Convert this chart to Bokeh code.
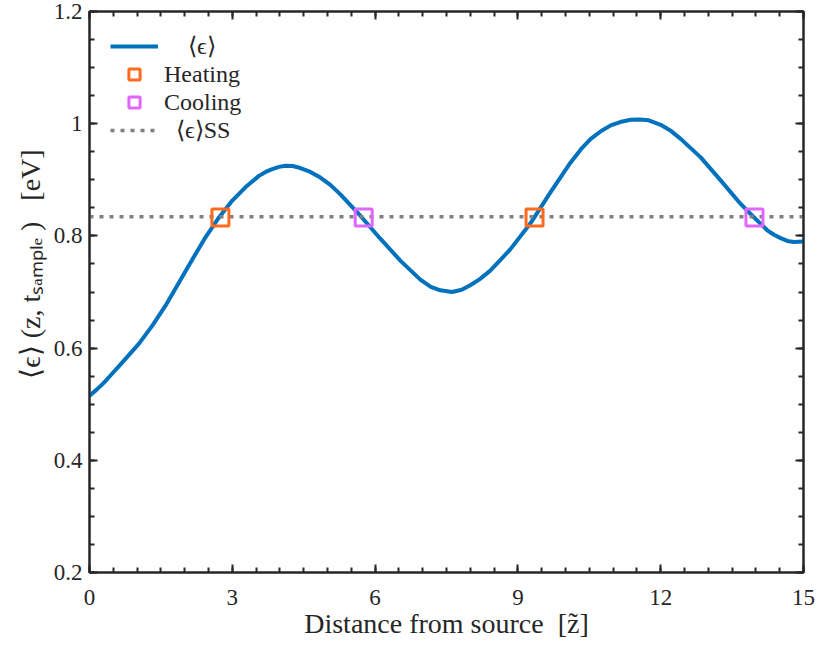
import numpy as np
from bokeh.plotting import figure
from bokeh.models import (Range1d, LinearAxis, FixedTicker, Legend, LegendItem,
                          ColumnDataSource)
from bokeh.embed import file_html
from bokeh.resources import INLINE

# ---- data ----
z = [0.0, 0.15, 0.3, 0.45, 0.62, 0.83, 1.04, 1.32, 1.6, 1.88, 2.16, 2.44,
     2.72, 3.0, 3.28, 3.56, 3.7, 3.84, 3.98, 4.12, 4.27, 4.43, 4.64, 4.85,
     5.06, 5.27, 5.69, 6.11, 6.53, 6.95, 7.17, 7.37, 7.62, 7.82, 8.0, 8.2,
     8.42, 8.84, 9.26, 9.68, 10.1, 10.33, 10.53, 10.75, 10.95, 11.15, 11.37,
     11.55, 11.75, 12.0, 12.2, 12.42, 12.84, 13.26, 13.68, 13.96, 14.24,
     14.38, 14.52, 14.66, 14.8, 15.0]
eps = [0.515, 0.526, 0.538, 0.552, 0.568, 0.588, 0.608, 0.640, 0.676, 0.717,
       0.758, 0.798, 0.833, 0.863, 0.887, 0.907, 0.914, 0.919, 0.923, 0.925,
       0.9245, 0.921, 0.914, 0.904, 0.891, 0.874, 0.836, 0.795, 0.756, 0.722,
       0.709, 0.703, 0.700, 0.704, 0.712, 0.723, 0.738, 0.776, 0.822, 0.877,
       0.930, 0.955, 0.973, 0.987, 0.997, 1.003, 1.007, 1.0075, 1.006, 0.998,
       0.988, 0.973, 0.940, 0.899, 0.857, 0.833, 0.810, 0.802, 0.796, 0.791,
       0.789, 0.790]
heat_z = [2.75, 9.35]
heat_eps = [0.833, 0.833]
cool_z = [5.76, 13.97]
cool_eps = [0.833, 0.833]
eps_ss = 0.834

x_ticks = [0, 3, 6, 9, 12, 15]
x_tick_labels = ["0", "3", "6", "9", "12", "15"]
y_ticks = [0.2, 0.4, 0.6, 0.8, 1.0, 1.2]
y_tick_labels = ["0.2", "0.4", "0.6", "0.8", "1", "1.2"]

FONT = "Liberation Serif"
DARK = "#262626"
NB = "\u00a0"

p = figure(frame_width=714, frame_height=561, width=818, height=651,
           x_range=Range1d(0, 15), y_range=Range1d(0.2, 1.2),
           output_backend="svg", toolbar_location=None,
           min_border_left=89, min_border_right=15, min_border_top=11,
           min_border_bottom=79, background_fill_color="white",
           border_fill_color="white")
p.xgrid.visible = False
p.ygrid.visible = False
p.outline_line_color = DARK
p.outline_line_width = 2

bottom = p.below[0]
left = p.left[0]

xt = FixedTicker(ticks=x_ticks, minor_ticks=list(np.arange(0, 15.01, 0.5)))
yt = FixedTicker(ticks=y_ticks, minor_ticks=list(np.round(np.arange(0.2, 1.201, 0.05), 3)))

bottom.ticker = xt
left.ticker = yt
bottom.major_label_overrides = {v: s for v, s in zip(x_ticks, x_tick_labels)}
left.major_label_overrides = {v: s for v, s in zip(y_ticks, y_tick_labels)}

top = LinearAxis(ticker=xt)
right = LinearAxis(ticker=yt)
top.major_label_overrides = {v: "" for v in x_ticks}
right.major_label_overrides = {v: "" for v in y_ticks}
p.add_layout(top, "above")
p.add_layout(right, "right")

for ax in [bottom, left, top, right]:
    ax.axis_line_color = DARK
    ax.axis_line_width = 2
    ax.major_tick_line_color = DARK
    ax.minor_tick_line_color = DARK
    ax.major_tick_line_width = 2
    ax.minor_tick_line_width = 2
    ax.major_tick_in = 8
    ax.major_tick_out = 0
    ax.minor_tick_in = 5
    ax.minor_tick_out = 0
    ax.major_label_text_font = FONT
    ax.major_label_text_color = DARK
    ax.major_label_text_font_size = "23px"
    ax.axis_label_text_font = FONT
    ax.axis_label_text_color = DARK
    ax.axis_label_text_font_size = "28px"
    ax.axis_label_text_font_style = "normal"

for ax in [top, right]:
    ax.major_label_text_font_size = "0px"
    ax.major_label_standoff = 0

bottom.major_label_standoff = 17
left.major_label_standoff = 7
bottom.axis_label = "Distance from source" + NB * 2 + "[z\u0303]"
left.axis_label = (NB * 8 + "\u27e8\u03f5\u27e9" + NB + "(z," + NB + "t"
                   + "\u209b\u2090\u2098\u209a\u2097\u2091" + NB + ")"
                   + NB * 3 + "[eV]")
bottom.axis_label_standoff = 0
left.axis_label_standoff = 5

src = ColumnDataSource(dict(z=z, eps=eps))
r_line = p.line("z", "eps", source=src, line_color="#0072BD", line_width=4,
                line_join="round")
r_ss = p.line(x=[0, 15], y=[eps_ss, eps_ss], line_color="#808080",
              line_width=3.5, line_dash="4 6")
r_heat = p.scatter(heat_z, heat_eps, marker="square", size=17,
                   fill_color=None, line_color="#FF6A1F", line_width=3)
r_cool = p.scatter(cool_z, cool_eps, marker="square", size=17,
                   fill_color=None, line_color="#E066FF", line_width=3)

legend = Legend(items=[
    LegendItem(label=NB * 4 + "\u27e8\u03f5\u27e9", renderers=[r_line]),
    LegendItem(label="Heating", renderers=[r_heat]),
    LegendItem(label="Cooling", renderers=[r_cool]),
    LegendItem(label=NB * 2 + "\u27e8\u03f5\u27e9SS", renderers=[r_ss]),
], location="top_left", orientation="vertical")
legend.border_line_color = None
legend.background_fill_alpha = 0
legend.padding = 0
legend.margin = 21
legend.glyph_width = 48
legend.glyph_height = 28
legend.label_height = 20
legend.spacing = 0
legend.label_standoff = 6
legend.label_text_font = FONT
legend.label_text_font_size = "24px"
legend.label_text_color = DARK
p.add_layout(legend, "center")

open("out.html", "w").write(file_html(p, INLINE))
